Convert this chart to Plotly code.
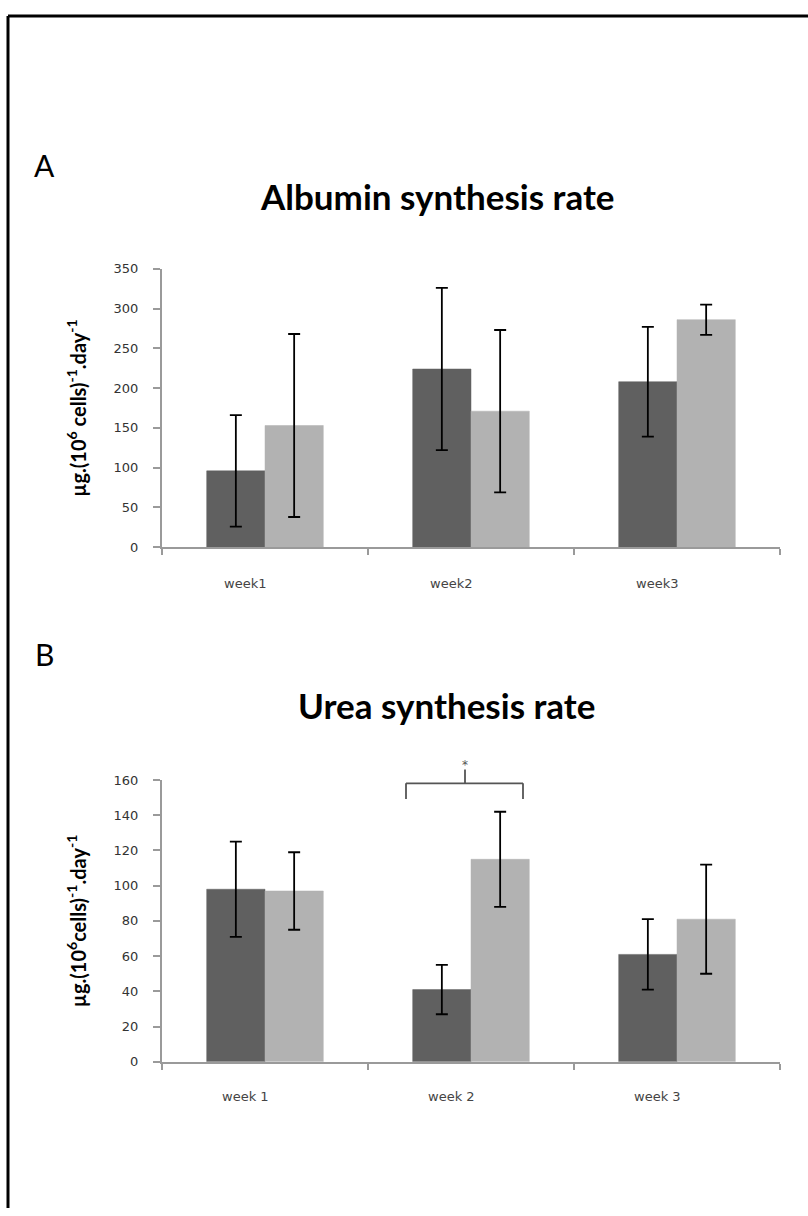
import plotly.graph_objects as go

# Albumin synthesis rate (panel A)
weeks_a = ["week1", "week2", "week3"]
alb_dark = [96, 224, 208]
alb_dark_err = [70, 102, 69]
alb_light = [153, 171, 286]
alb_light_err = [115, 102, 19]

# Urea synthesis rate (panel B)
weeks_b = ["week 1", "week 2", "week 3"]
urea_dark = [98, 41, 61]
urea_dark_err = [27, 14, 20]
urea_light = [97, 115, 81]
urea_light_err = [22, 27, 31]

W, H = 808, 1216
DARK = "#606060"
LIGHT = "#b2b2b2"
AXIS = "#9a9a9a"


def px_x(x):
    return x / W


def px_y(y):
    return 1 - y / H


fig = go.Figure()


def add_pair(xcats, d, de, l, le, xa, ya):
    for vals, errs, col in ((d, de, DARK), (l, le, LIGHT)):
        fig.add_trace(go.Bar(
            x=xcats, y=vals, xaxis=xa, yaxis=ya,
            marker=dict(color=col, line=dict(color=col, width=0.5)),
            error_y=dict(type="data", array=errs, visible=True,
                         color="black", thickness=1.8, width=6),
            showlegend=False,
        ))


add_pair(weeks_a, alb_dark, alb_dark_err, alb_light, alb_light_err, "x", "y")
add_pair(weeks_b, urea_dark, urea_dark_err, urea_light, urea_light_err, "x2", "y2")

tickfont = dict(family="DejaVu Sans", size=13, color="#333333")
xfont = dict(family="DejaVu Sans", size=13, color="#444444")

xcommon = dict(type="category", showline=True, linecolor=AXIS, linewidth=2,
               ticks="outside", tickson="boundaries", ticklen=6, tickcolor=AXIS,
               tickwidth=2, showgrid=False, zeroline=False, showticklabels=False,
               fixedrange=True)
ycommon = dict(showline=True, linecolor=AXIS, linewidth=2, ticks="outside",
               ticklen=7, tickcolor=AXIS, tickwidth=2, showgrid=False,
               zeroline=False, tickfont=tickfont, ticklabelstandoff=12,
               fixedrange=True)

ytitle_a = "<b>µg.(10<sup>6</sup> cells)<sup>-1</sup>.day<sup>-1</sup></b>"
ytitle_b = "<b>µg.(10<sup>6</sup>cells)<sup>-1</sup>.day<sup>-1</sup></b>"
ytfont = dict(family="Lato", size=20, color="black")

fig.update_layout(
    width=W, height=H, autosize=False,
    margin=dict(l=0, r=0, t=0, b=0),
    paper_bgcolor="white", plot_bgcolor="white",
    barmode="group", bargap=0.434, bargroupgap=0,
    xaxis=dict(domain=[px_x(162), px_x(780)], anchor="y", **xcommon),
    yaxis=dict(domain=[px_y(547), px_y(265)], anchor="x", range=[0, 350],
               dtick=50, title=dict(text=ytitle_a, standoff=22, font=ytfont),
               **ycommon),
    xaxis2=dict(domain=[px_x(162), px_x(780)], anchor="y2", **xcommon),
    yaxis2=dict(domain=[px_y(1068), px_y(782.7)], anchor="x2", range=[0, 160],
                dtick=20, title=dict(text=ytitle_b, standoff=22, font=ytfont),
                **ycommon),
)

# Category labels, set slightly left of the bar pairs
for cats, xa, ypx in ((weeks_a, "x", 584), (weeks_b, "x2", 1103)):
    for i, c in enumerate(cats):
        fig.add_annotation(text=c, x=i, xref=xa, y=px_y(ypx), yref="paper",
                           showarrow=False, xshift=-20, yanchor="middle",
                           font=xfont)

# Titles and panel letters
for text, x, y, size, bold in (
    ("Albumin synthesis rate", 437, 191, 35, True),
    ("Urea synthesis rate", 446, 707, 35, True),
    ("A", 44, 160, 30, False),
    ("B", 44, 655, 30, False),
):
    fig.add_annotation(
        text=f"<b>{text}</b>" if bold else text,
        x=px_x(x), y=px_y(y), xref="paper", yref="paper",
        showarrow=False, xanchor="center", yanchor="middle",
        font=dict(family="Lato", size=size, color="black"),
    )

# Significance bracket over week 2 (panel B)
bcol = "#555555"
yb, ye, ys = px_y(786), px_y(802), px_y(772)
xl, xr, xc = px_x(406), px_x(523), px_x(465)
for x0, y0, x1, y1 in ((xl, yb, xr, yb), (xl, yb, xl, ye), (xr, yb, xr, ye), (xc, yb, xc, ys)):
    fig.add_shape(type="line", xref="paper", yref="paper", x0=x0, y0=y0, x1=x1, y1=y1,
                  line=dict(color=bcol, width=1.8))
fig.add_annotation(text="*", x=xc, y=px_y(767), xref="paper", yref="paper",
                   showarrow=False, yanchor="middle",
                   font=dict(family="DejaVu Sans", size=12, color=bcol))

# Outer frame
fig.add_shape(type="line", xref="paper", yref="paper", x0=px_x(8), x1=1,
              y0=px_y(9), y1=px_y(9), line=dict(color="black", width=3))
fig.add_shape(type="line", xref="paper", yref="paper", x0=px_x(8), x1=px_x(8),
              y0=px_y(9), y1=0, line=dict(color="black", width=3))

fig.write_html("out.html")
